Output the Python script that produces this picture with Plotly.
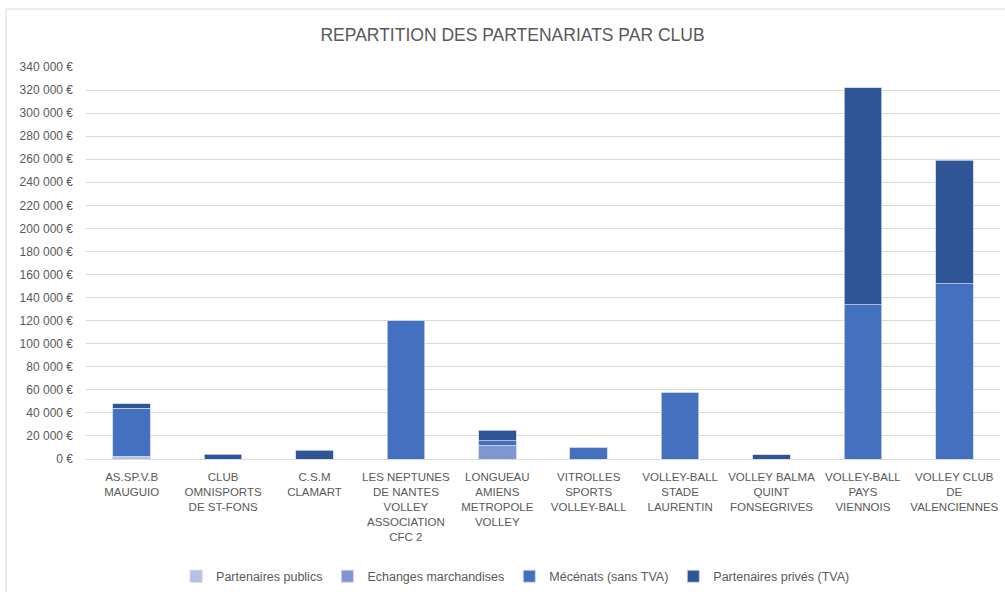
import plotly.graph_objects as go

clubs = [
    "AS.SP.V.B<br>MAUGUIO",
    "CLUB<br>OMNISPORTS<br>DE ST-FONS",
    "C.S.M<br>CLAMART",
    "LES NEPTUNES<br>DE NANTES<br>VOLLEY<br>ASSOCIATION<br>CFC 2",
    "LONGUEAU<br>AMIENS<br>METROPOLE<br>VOLLEY",
    "VITROLLES<br>SPORTS<br>VOLLEY-BALL",
    "VOLLEY-BALL<br>STADE<br>LAURENTIN",
    "VOLLEY BALMA<br>QUINT<br>FONSEGRIVES",
    "VOLLEY-BALL<br>PAYS<br>VIENNOIS",
    "VOLLEY CLUB<br>DE<br>VALENCIENNES",
]

partenaires_publics = [2500, 0, 0, 0, 0, 0, 0, 0, 0, 0]
echanges_marchandises = [0, 0, 0, 0, 12000, 0, 0, 0, 0, 0]
mecenats = [41500, 0, 0, 120000, 4000, 10000, 58000, 0, 134000, 152000]
partenaires_prives = [4000, 4300, 7500, 0, 9000, 0, 0, 3500, 188000, 107000]

series_names = ["Partenaires publics", "Echanges marchandises", "Mécénats (sans TVA)", "Partenaires privés (TVA)"]
series_values = [partenaires_publics, echanges_marchandises, mecenats, partenaires_prives]
series_colors = ["#B4C2E3", "#7F96D3", "#4470C0", "#2F5597"]

tick_values = list(range(0, 340001, 20000))
tick_labels = [f"{v:,}".replace(",", " ") + " €" for v in tick_values]

fig = go.Figure()
for name, vals, col in zip(series_names, series_values, series_colors):
    fig.add_trace(go.Bar(
        x=clubs, y=vals, name=name,
        marker=dict(color=col, line=dict(color="#C9D3EC", width=0.8)),
    ))

font_family = "Liberation Sans, Arial, sans-serif"
fig.update_layout(
    width=1005, height=592,
    barmode="stack",
    bargap=0.59,
    paper_bgcolor="white", plot_bgcolor="white",
    margin=dict(l=86, r=5, t=67, b=133, autoexpand=False),
    title=dict(text="REPARTITION DES PARTENARIATS PAR CLUB", x=0.51, xanchor="center",
               y=1 - 35 / 592, yanchor="middle", automargin=False,
               font=dict(family=font_family, size=17.5, color="#595959")),
    font=dict(family=font_family, size=12, color="#595959"),
    legend=dict(orientation="h", x=0.47, xanchor="center", y=-0.30, yanchor="middle",
                font=dict(size=12.5, color="#595959"), traceorder="normal",
                itemwidth=30),
    showlegend=True,
    shapes=[
        dict(type="rect", xref="paper", yref="paper",
             x0=(6 - 86) / 914, x1=1.05, y0=-0.5, y1=(459 - 9) / 392,
             line=dict(color="#D9D9D9", width=1), layer="below"),
    ],
)
fig.update_xaxes(showgrid=False, showline=True, linecolor="#D9D9D9", linewidth=1,
                 tickfont=dict(size=11.5, color="#595959"), ticks="", automargin=False,
                 ticklabelstandoff=7)
fig.update_yaxes(range=[0, 340000], tickvals=tick_values, ticktext=tick_labels,
                 showgrid=True, gridcolor="#D9D9D9", gridwidth=1, zeroline=False,
                 tickfont=dict(size=12, color="#595959"), ticks="", ticklabelstandoff=12,
                 automargin=False)

fig.write_html("out.html", config={"displayModeBar": False},
               post_script="document.body.style.margin='0px';document.body.style.overflow='hidden';")
